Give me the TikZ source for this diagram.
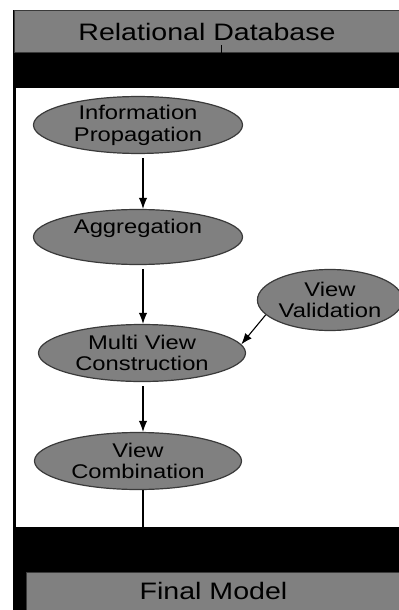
\documentclass[tikz,border=0pt]{standalone}
\usepackage{fontspec}
\newfontfamily\flowfont[FakeStretch=1.2]{Liberation Sans}
\usetikzlibrary{shapes.geometric,arrows.meta,positioning}
\definecolor{flowgray}{HTML}{808080}
\definecolor{flowedge}{HTML}{3A3A3A}
\tikzset{
 flow box/.style={rectangle,fill=flowgray,draw=flowedge,line width=.5pt,
                  inner sep=0pt,font=\flowfont\fontsize{11.9}{14}\selectfont},
 flow step/.style={ellipse,fill=flowgray,draw=flowedge,line width=.6pt,
                   inner sep=0pt,align=center,
                   font=\flowfont\fontsize{9.9}{10.9}\selectfont},
 flow arrow/.style={line width=.55pt,-{Latex[length=5.5pt,width=4.2pt]}},
 flow line/.style={line width=.55pt}
}

\begin{document}
\begin{tikzpicture}[x=.5pt,y=-.5pt]
 \useasboundingbox (0,0) rectangle (399,610);
 \fill[white] (0,0) rectangle (399,610);
 % frame and bands
 \fill[black] (13,10) rectangle (405,615);
 \fill[white] (16,88) rectangle (405,527);
 \node[flow box,minimum width=192.5pt,minimum height=21pt] (db)
   at (207,32) {Relational Database};
 \node[flow box,minimum width=187.5pt,minimum height=19pt] (model)
   at (213.5,591) {Final Model};
 % steps
 \node[flow step,minimum width=104.5pt,minimum height=28pt] (infoprop)
   at (138,125) {Information\\Propagation};
 \node[flow step,minimum width=104.5pt,minimum height=27.5pt] (aggr)
   at (138,237) {Aggregation\\\mbox{}};
 \node[flow step,minimum width=103.5pt,minimum height=28.5pt] (multiview)
   at (142,353) {Multi View\\Construction};
 \node[flow step,minimum width=70pt,minimum height=30.5pt] (viewval)
   at (330,300) {View\\Validation};
 \node[flow step,minimum width=103.5pt,minimum height=28.5pt] (viewcomb)
   at (138,461) {View\\Combination};
 % connectors
 \coordinate (spine) at (143,0);
 \coordinate (whiteend) at (143,527);
 \coordinate (dbtick) at (221.7,45);
 \foreach \a/\b in {infoprop/aggr,aggr/multiview,multiview/viewcomb}{
   \draw[flow arrow] ([yshift=-2pt]\a.south -| spine) -- (\b.north -| spine);
 }
 \draw[flow arrow] (viewval.193) -- (multiview.5);
 \draw[flow line] (viewcomb.south -| spine) -- (whiteend);
 \draw[flow line] (dbtick) -- (dbtick |- db.south);
\end{tikzpicture}
\end{document}
